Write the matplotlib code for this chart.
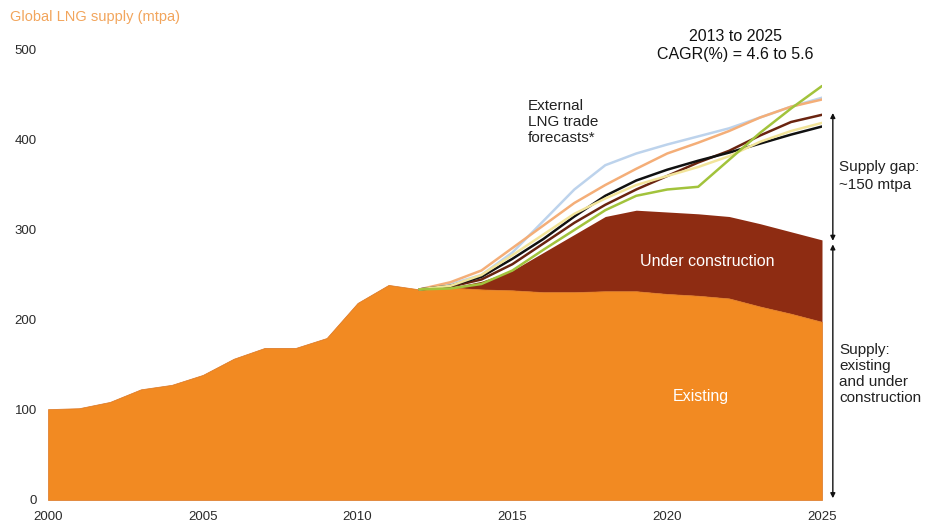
import matplotlib
matplotlib.use('Agg')
import matplotlib.pyplot as plt
import numpy as np

plt.rcParams['font.family'] = ['Liberation Sans Narrow', 'Liberation Sans', 'DejaVu Sans']

# historical + existing supply
years = list(range(2000, 2026))
existing = [101, 102, 109, 123, 128, 139, 157, 169, 169, 180, 219, 239, 234,
            236, 234, 233, 231, 231, 232, 232, 229, 227, 224, 215, 207, 198]
# total supply incl. under construction (2012 onward)
uc_years = list(range(2012, 2026))
total_supply = [234, 236, 243, 255, 275, 295, 315, 322, 320, 318, 315, 307, 298, 289]

# external forecasts
fc_years = list(range(2012, 2026))
fc_blue = [234, 240, 250, 275, 310, 345, 372, 385, 395, 404, 413, 425, 437, 447]
fc_orange = [234, 242, 255, 280, 305, 330, 350, 368, 385, 397, 410, 425, 437, 445]
fc_black = [234, 238, 248, 268, 290, 315, 338, 355, 367, 377, 386, 396, 406, 415]
fc_brown = [234, 237, 245, 262, 285, 308, 328, 345, 360, 375, 388, 405, 420, 428]
fc_yellow = [234, 238, 250, 272, 295, 318, 335, 350, 360, 370, 382, 398, 410, 419]
fc_green = [234, 235, 240, 255, 278, 300, 322, 338, 345, 348, 378, 408, 435, 460]

x_ticks = [2000, 2005, 2010, 2015, 2020, 2025]
y_ticks = [0, 100, 200, 300, 400, 500]

fig = plt.figure(figsize=(9.27, 5.27), dpi=100)
ax = fig.add_axes([48 / 927, 27 / 527, 774 / 927, 450 / 527])

ex_uc = existing[12:]
ax.fill_between(uc_years, ex_uc, total_supply, color='#8E2C12', linewidth=0, zorder=2)
ax.fill_between(years, 0, existing, color='#F28A22', edgecolor='#DA7420',
                linewidth=0.5, zorder=3)

line_styles = [
    (fc_blue, '#BDD3EC'),
    (fc_orange, '#F4AE78'),
    (fc_brown, '#6A2410'),
    (fc_black, '#111111'),
    (fc_yellow, '#F2E49A'),
    (fc_green, '#A2C33C'),
]
for vals, c in line_styles:
    ax.plot(fc_years, vals, color=c, linewidth=1.8, zorder=4, solid_capstyle='round')

ax.set_xlim(2000, 2025)
ax.set_ylim(0, 500)
ax.set_xticks(x_ticks)
ax.set_yticks(y_ticks)
ax.tick_params(length=0, labelsize=9.5, colors='#2a2a2a', pad=8)
for s in ax.spines.values():
    s.set_visible(False)
ax.set_facecolor('none')

fig.text(10 / 927, 1 - 17 / 527, 'Global LNG supply (mtpa)',
         color='#F2A55C', fontsize=10.5, ha='left', va='center')

ax.text(2021.1, 115, 'Existing', color='white', fontsize=11.5, ha='center', va='center', zorder=5)
ax.text(2021.3, 265, 'Under construction', color='white', fontsize=11.5, ha='center', va='center', zorder=5)
ax.text(2015.5, 420, 'External\nLNG trade\nforecasts*', color='#222222', fontsize=11,
        ha='left', va='center', linespacing=1.2)
ax.text(2022.2, 505, '2013 to 2025\nCAGR(%) = 4.6 to 5.6', color='#111111', fontsize=11.5,
        ha='center', va='center', linespacing=1.3, clip_on=False)

# right-hand arrows
ax_x = 2025.35
ax.annotate('', xy=(ax_x, 288), xytext=(ax_x, 430),
            arrowprops=dict(arrowstyle='<|-|>', color='#111111', lw=1.0,
                            mutation_scale=7, shrinkA=0, shrinkB=0),
            annotation_clip=False)
ax.annotate('', xy=(ax_x, 2), xytext=(ax_x, 284),
            arrowprops=dict(arrowstyle='<|-|>', color='#111111', lw=1.0,
                            mutation_scale=7, shrinkA=0, shrinkB=0),
            annotation_clip=False)
ax.text(2025.55, 360, 'Supply gap:\n~150 mtpa', color='#222222', fontsize=11,
        ha='left', va='center', linespacing=1.3, clip_on=False)
ax.text(2025.55, 140, 'Supply:\nexisting\nand under\nconstruction', color='#222222',
        fontsize=11, ha='left', va='center', linespacing=1.2, clip_on=False)

fig.savefig('out.png', dpi=100)
plt.close()
